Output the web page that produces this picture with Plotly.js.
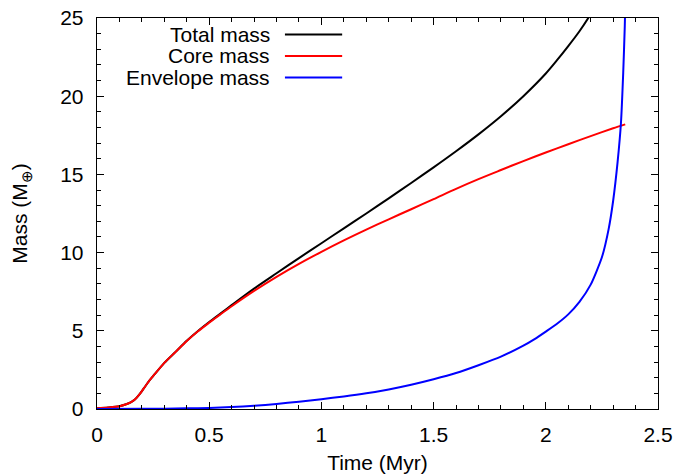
<!DOCTYPE html>
<html>
<head>
<meta charset="utf-8">
<script src="https://cdn.plot.ly/plotly-3.0.1.min.js"></script>
<style>html,body{margin:0;padding:0;background:#fff;}#chart{width:678px;height:474px;}</style>
</head>
<body>
<div id="chart"></div>
<script>
// Total mass (black)
const timeTotal = [0, 0.05, 0.1, 0.13, 0.15, 0.17, 0.19, 0.21, 0.23, 0.25, 0.3, 0.35, 0.4, 0.45, 0.5, 0.55, 0.6, 0.7, 0.8, 0.9, 1.0, 1.1, 1.2, 1.3, 1.4, 1.5, 1.6, 1.7, 1.8, 1.9, 2.0, 2.05, 2.1, 2.15, 2.2, 2.25];
const massTotal = [0.05, 0.1, 0.18, 0.3, 0.42, 0.62, 0.95, 1.35, 1.75, 2.1, 2.95, 3.65, 4.36, 4.99, 5.56, 6.1, 6.64, 7.7, 8.68, 9.65, 10.6, 11.55, 12.5, 13.47, 14.45, 15.45, 16.48, 17.56, 18.72, 20.0, 21.45, 22.3, 23.2, 24.15, 25.25, 26.5];
// Core mass (red)
const timeCore = [0, 0.05, 0.1, 0.13, 0.15, 0.17, 0.19, 0.21, 0.23, 0.25, 0.3, 0.35, 0.4, 0.45, 0.5, 0.55, 0.6, 0.7, 0.8, 0.9, 1.0, 1.1, 1.2, 1.3, 1.4, 1.5, 1.6, 1.7, 1.8, 1.9, 2.0, 2.1, 2.2, 2.3, 2.354];
const massCore = [0.05, 0.1, 0.18, 0.3, 0.42, 0.62, 0.95, 1.35, 1.75, 2.1, 2.95, 3.65, 4.35, 4.97, 5.52, 6.05, 6.57, 7.55, 8.45, 9.28, 10.05, 10.78, 11.47, 12.13, 12.77, 13.42, 14.08, 14.7, 15.28, 15.85, 16.4, 16.93, 17.45, 17.95, 18.2];
// Envelope mass (blue)
const timeEnv = [0, 0.2, 0.3, 0.4, 0.5, 0.6, 0.7, 0.8, 0.9, 1.0, 1.1, 1.2, 1.3, 1.4, 1.5, 1.6, 1.7, 1.8, 1.9, 1.95, 2.0, 2.05, 2.1, 2.15, 2.2, 2.25, 2.28, 2.3, 2.32, 2.335, 2.345, 2.352, 2.356];
const massEnv = [0.0, 0.01, 0.02, 0.04, 0.07, 0.12, 0.2, 0.32, 0.47, 0.63, 0.8, 1.0, 1.25, 1.55, 1.9, 2.3, 2.8, 3.35, 4.05, 4.47, 4.95, 5.45, 6.05, 6.85, 7.95, 9.7, 11.5, 13.3, 15.8, 18.3, 21.5, 24.5, 27];

const seriesNames = ['Total mass', 'Core mass', 'Envelope mass'];
const seriesColors = ['#000000', '#ff0000', '#0000ff'];
const xTickVals = [0, 0.5, 1, 1.5, 2, 2.5];
const xTickText = ['0', '0.5', '1', '1.5', '2', '2.5'];
const yTickVals = [0, 5, 10, 15, 20, 25];

const FONT = 'Liberation Sans, Arial, Helvetica, sans-serif';
const FS = 21;

const traces = [
  {x: timeTotal, y: massTotal, name: seriesNames[0], mode: 'lines', line: {color: seriesColors[0], width: 2, shape: 'spline', smoothing: 0.8}},
  {x: timeCore, y: massCore, name: seriesNames[1], mode: 'lines', line: {color: seriesColors[1], width: 2, shape: 'spline', smoothing: 0.8}},
  {x: timeEnv, y: massEnv, name: seriesNames[2], mode: 'lines', line: {color: seriesColors[2], width: 2, shape: 'spline', smoothing: 0.6}}
];

// legend drawn gnuplot-style: right-aligned text, sample line to the right
const legendY = [0.958, 0.903, 0.848];
const annotations = seriesNames.map((n, i) => ({
  xref: 'paper', yref: 'paper', x: 0.312, y: legendY[i], xanchor: 'right', yanchor: 'middle',
  text: n, showarrow: false, font: {family: FONT, size: FS, color: '#000'}
}));
const shapes = seriesNames.map((n, i) => ({
  type: 'line', xref: 'paper', yref: 'paper', x0: 0.335, x1: 0.437, y0: legendY[i], y1: legendY[i],
  line: {color: seriesColors[i], width: 2}
}));

const layout = {
  width: 678, height: 474,
  margin: {l: 97, r: 20, t: 18, b: 65},
  paper_bgcolor: '#fff', plot_bgcolor: '#fff',
  showlegend: false,
  font: {family: FONT, size: FS, color: '#000'},
  xaxis: {
    range: [0, 2.5], tickvals: xTickVals, ticktext: xTickText,
    ticks: 'inside', ticklen: 7, tickwidth: 1, tickcolor: '#000',
    minor: {dtick: 0.1, tick0: 0, ticks: 'inside', ticklen: 4, tickwidth: 1, tickcolor: '#000', showgrid: false},
    showline: true, linecolor: '#000', linewidth: 1.3, mirror: 'allticks',
    showgrid: false, zeroline: false, ticklabelstandoff: 6,
    title: {text: 'Time (Myr)', font: {family: FONT, size: FS}, standoff: 12},
    tickfont: {family: FONT, size: FS}
  },
  yaxis: {
    range: [0, 25], tickvals: yTickVals,
    ticks: 'inside', ticklen: 7, tickwidth: 1, tickcolor: '#000',
    minor: {dtick: 1, tick0: 0, ticks: 'inside', ticklen: 4, tickwidth: 1, tickcolor: '#000', showgrid: false},
    showline: true, linecolor: '#000', linewidth: 1.3, mirror: 'allticks',
    showgrid: false, zeroline: false, ticklabelstandoff: 8,
    title: {text: 'Mass (M<sub>⊕</sub>)', font: {family: FONT, size: FS}, standoff: 26},
    tickfont: {family: FONT, size: FS}
  },
  annotations: annotations,
  shapes: shapes
};

Plotly.newPlot('chart', traces, layout, {staticPlot: true, displayModeBar: false});
</script>
</body>
</html>
